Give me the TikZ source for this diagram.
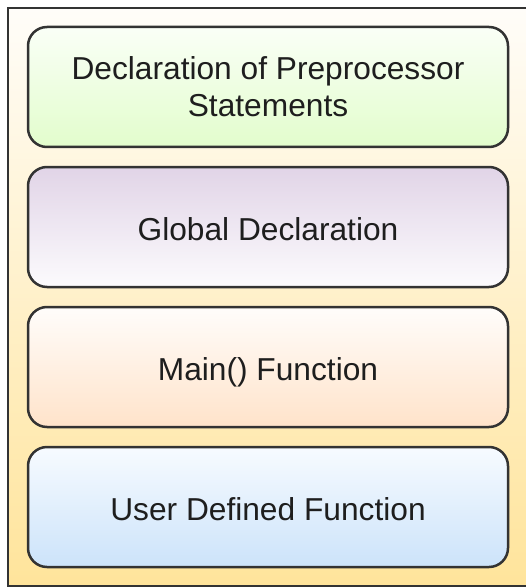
\documentclass[tikz,border=0pt]{standalone}
\usepackage{fontspec}
\setmainfont{Liberation Sans}
\definecolor{lineC}{HTML}{333333}
\definecolor{txtC}{HTML}{1E1E1E}
\definecolor{outerTop}{HTML}{FFFDF9}
\definecolor{outerBot}{HTML}{FFE49B}
\definecolor{greenTop}{HTML}{FAFFF7}
\definecolor{greenBot}{HTML}{E2FDCC}
\definecolor{purpTop}{HTML}{E1D4E7}
\definecolor{purpBot}{HTML}{FCFBFD}
\definecolor{orTop}{HTML}{FFFDFB}
\definecolor{orBot}{HTML}{FFE3CA}
\definecolor{blTop}{HTML}{F7FBFF}
\definecolor{blBot}{HTML}{CCE3FA}
\tikzset{
  layerbox/.style={draw=lineC, line width=2.5pt, rounded corners=19pt,
    minimum width=480pt, minimum height=120pt, inner sep=0pt,
    align=center, text=txtC,
    font=\fontsize{31.7pt}{37pt}\selectfont},
  oneline/.style={text height=26.7pt, text depth=0pt},
}
\begin{document}
\begin{tikzpicture}[x=1pt,y=-1pt]
\useasboundingbox (0,0) rectangle (526,588);
\path[draw=lineC, line width=2.5pt, top color=outerTop, bottom color=outerBot]
  (8,8) rectangle (560,586);
\node[layerbox, top color=greenTop, bottom color=greenBot] (pre) at (268,87)
  {Declaration of Preprocessor\\Statements};
\node[layerbox, oneline, top color=purpTop, bottom color=purpBot] (glob) at (268,227)
  {Global Declaration};
\node[layerbox, oneline, top color=orTop, bottom color=orBot] (mainf) at (268,367)
  {Main() Function};
\node[layerbox, oneline, top color=blTop, bottom color=blBot] (user) at (268,507)
  {User Defined Function};
\end{tikzpicture}
\end{document}
